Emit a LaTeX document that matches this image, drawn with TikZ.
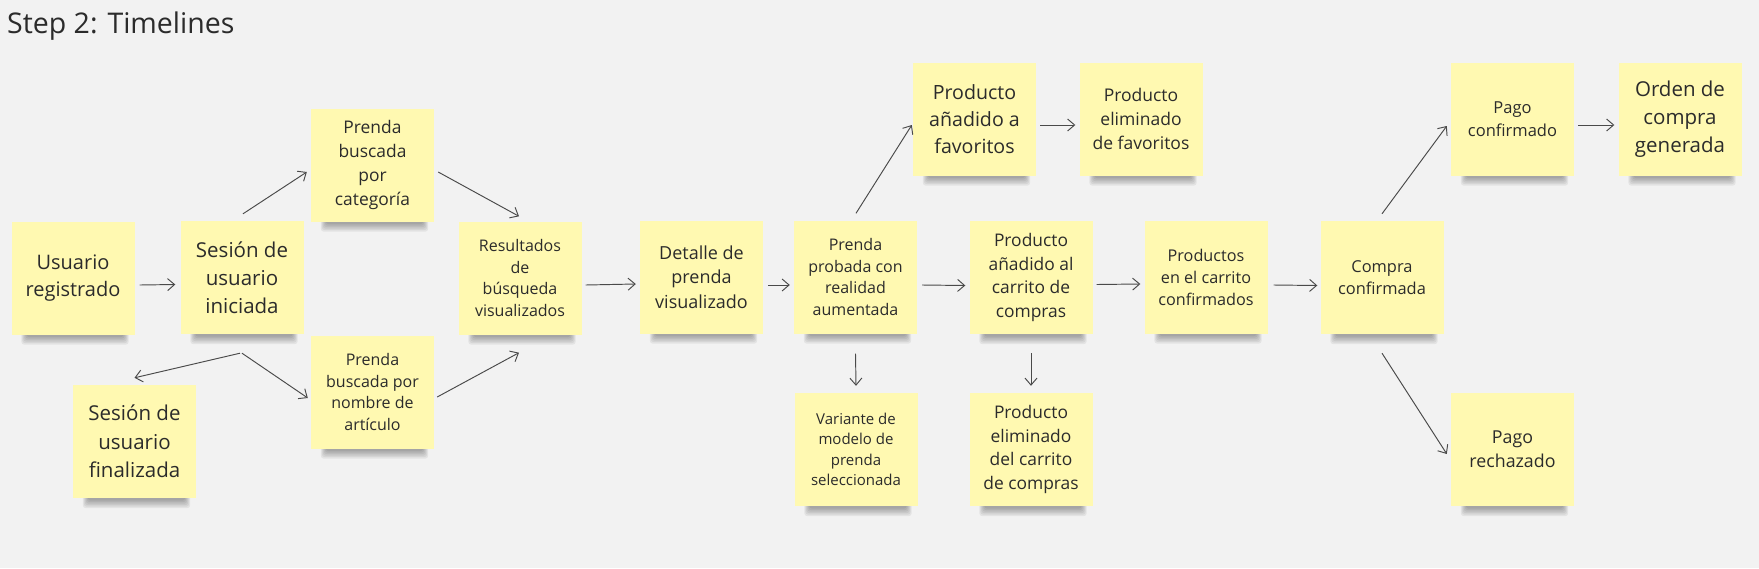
\documentclass[tikz,border=0pt]{standalone}
\usepackage{fontspec}
\setmainfont{Open Sans}
\usetikzlibrary{arrows.meta}
\definecolor{bgc}{HTML}{F2F2F2}
\definecolor{stickyc}{HTML}{FFF9B1}
\definecolor{txtc}{HTML}{2B2B2B}
\definecolor{arrc}{HTML}{4A4A4A}
\pgfdeclarelayer{back}
\pgfdeclarelayer{shade}
\pgfsetlayers{back,shade,main}
\tikzset{
  sticky/.style={fill=stickyc, draw=none, text=txtc, align=center, inner sep=0pt,
    minimum width=123pt, minimum height=113pt},
  flow/.style={draw=arrc, line width=0.95pt, -{Straight Barb[length=7pt,width=12pt,line width=0.95pt]}}
}
\newcommand\fsz[2]{\fontsize{#1}{#2}\selectfont}
\newcommand\stickshadow[1]{%
  \foreach \k in {0,...,5}{%
    \fill[black, opacity=0.06, rounded corners=3pt]
      ([xshift={(10+\k)*1pt}, yshift=6pt]#1.south west) rectangle
      ([xshift={(-6-\k)*1pt}, yshift={(-10+1.5*\k)*1pt}]#1.south east);
  }%
}
\begin{document}
\begin{tikzpicture}[x=1pt,y=-1pt]
\begin{pgfonlayer}{back}
\fill[bgc] (0,0) rectangle (1759,568);
\end{pgfonlayer}
\useasboundingbox (0,0) rectangle (1759,568);

\node[anchor=base west, text=txtc, inner sep=0pt, font=\fsz{28.5}{34}] (title) at (7,33) {Step 2: Timelines};

\node[sticky, font=\fsz{20}{27}] (ureg) at (73,278) {Usuario\\registrado};
\node[sticky, font=\fsz{20.5}{28}] (sini) at (242,277.5) {Sesión de\\usuario\\iniciada};
\node[sticky, font=\fsz{17.4}{23.7}] (pcat) at (372.5,165) {Prenda\\buscada\\por\\categoría};
\node[sticky, font=\fsz{16}{21.7}] (pnom) at (372.5,392) {Prenda\\buscada por\\nombre de\\artículo};
\node[sticky, font=\fsz{20.5}{28.3}] (sfin) at (134.5,441.5) {Sesión de\\usuario\\finalizada};
\node[sticky, font=\fsz{16}{21.7}] (resu) at (520,278) {Resultados\\de\\búsqueda\\visualizados};
\node[sticky, font=\fsz{18}{24.7}] (deta) at (701.5,277) {Detalle de\\prenda\\visualizado};
\node[sticky, font=\fsz{16}{21.7}] (prob) at (855.5,277) {Prenda\\probada con\\realidad\\aumentada};
\node[sticky, font=\fsz{15}{20.3}] (vari) at (856,449.5) {Variante de\\modelo de\\prenda\\seleccionada};
\node[sticky, font=\fsz{19.6}{26.7}] (pfav) at (974.5,119) {Producto\\añadido a\\favoritos};
\node[sticky, font=\fsz{17.5}{24}] (efav) at (1141,119) {Producto\\eliminado\\de favoritos};
\node[sticky, font=\fsz{17.4}{23.7}] (pcar) at (1031,277.5) {Producto\\añadido al\\carrito de\\compras};
\node[sticky, font=\fsz{16.2}{22}] (pcon) at (1206,277) {Productos\\en el carrito\\confirmados};
\node[sticky, font=\fsz{17.4}{23.7}] (ecar) at (1031,449.5) {Producto\\eliminado\\del carrito\\de compras};
\node[sticky, font=\fsz{16.4}{22.3}] (comp) at (1382,277.5) {Compra\\confirmada};
\node[sticky, font=\fsz{16.5}{23}] (pago) at (1512.5,119) {Pago\\confirmado};
\node[sticky, font=\fsz{20.5}{28}] (orde) at (1680,119) {Orden de\\compra\\generada};
\node[sticky, font=\fsz{17.8}{24.3}] (rech) at (1512.5,449.5) {Pago\\rechazado};

\begin{pgfonlayer}{shade}
\foreach \n in {ureg,sini,pcat,pnom,sfin,resu,deta,prob,vari,pfav,efav,pcar,pcon,ecar,comp,pago,orde,rech}{\stickshadow{\n}}
\end{pgfonlayer}

% horizontal flow
\draw[flow] ([xshift=5pt,yshift=-7pt]ureg.east) -- ([xshift=-5pt,yshift=-7pt]sini.west);
\draw[flow] ([xshift=4pt,yshift=-7pt]resu.east) -- ([xshift=-4pt,yshift=-7pt]deta.west);
\draw[flow] ([xshift=5pt,yshift=-8pt]deta.east) -- ([xshift=-4pt,yshift=-8pt]prob.west);
\draw[flow] ([xshift=5pt,yshift=-8pt]prob.east) -- ([xshift=-4pt,yshift=-8pt]pcar.west);
\draw[flow] ([xshift=4pt,yshift=-7pt]pcar.east) -- ([xshift=-4pt,yshift=-7pt]pcon.west);
\draw[flow] ([xshift=6pt,yshift=-8pt]pcon.east) -- ([xshift=-3pt,yshift=-8pt]comp.west);
\draw[flow] ([xshift=4pt,yshift=-6pt]pfav.east) -- ([xshift=-4pt,yshift=-6pt]efav.west);
\draw[flow] ([xshift=4pt,yshift=-6pt]pago.east) -- ([xshift=-4pt,yshift=-6pt]orde.west);

% branches
\draw[flow] ([xshift=1pt,yshift=7pt]sini.north) -- ([xshift=-4pt,yshift=-7pt]pcat.west);
\draw[flow] ([yshift=-19pt]sini.south) -- ([xshift=-3pt,yshift=-6pt]pnom.west);
\draw[flow] ([xshift=-2pt,yshift=-19pt]sini.south) -- ([yshift=7pt]sfin.north);
\draw[flow] ([xshift=4pt,yshift=-7pt]pcat.east) -- ([xshift=-1pt,yshift=5pt]resu.north);
\draw[flow] ([xshift=3pt,yshift=-5pt]pnom.east) -- ([xshift=-1pt,yshift=-18pt]resu.south);
\draw[flow] ([yshift=-20pt]prob.south) -- ([yshift=7pt]vari.north);
\draw[flow] ([yshift=-19pt]pcar.south) -- ([yshift=7pt]ecar.north);
\draw[flow] ([xshift=0.5pt,yshift=7pt]prob.north) -- ([xshift=-1pt,yshift=-6pt]pfav.west);
\draw[flow] ([yshift=7pt]comp.north) -- ([xshift=-4pt,yshift=-7pt]pago.west);
\draw[flow] ([yshift=-19pt]comp.south) -- ([xshift=-4pt,yshift=-4.5pt]rech.west);
\end{tikzpicture}
\end{document}
